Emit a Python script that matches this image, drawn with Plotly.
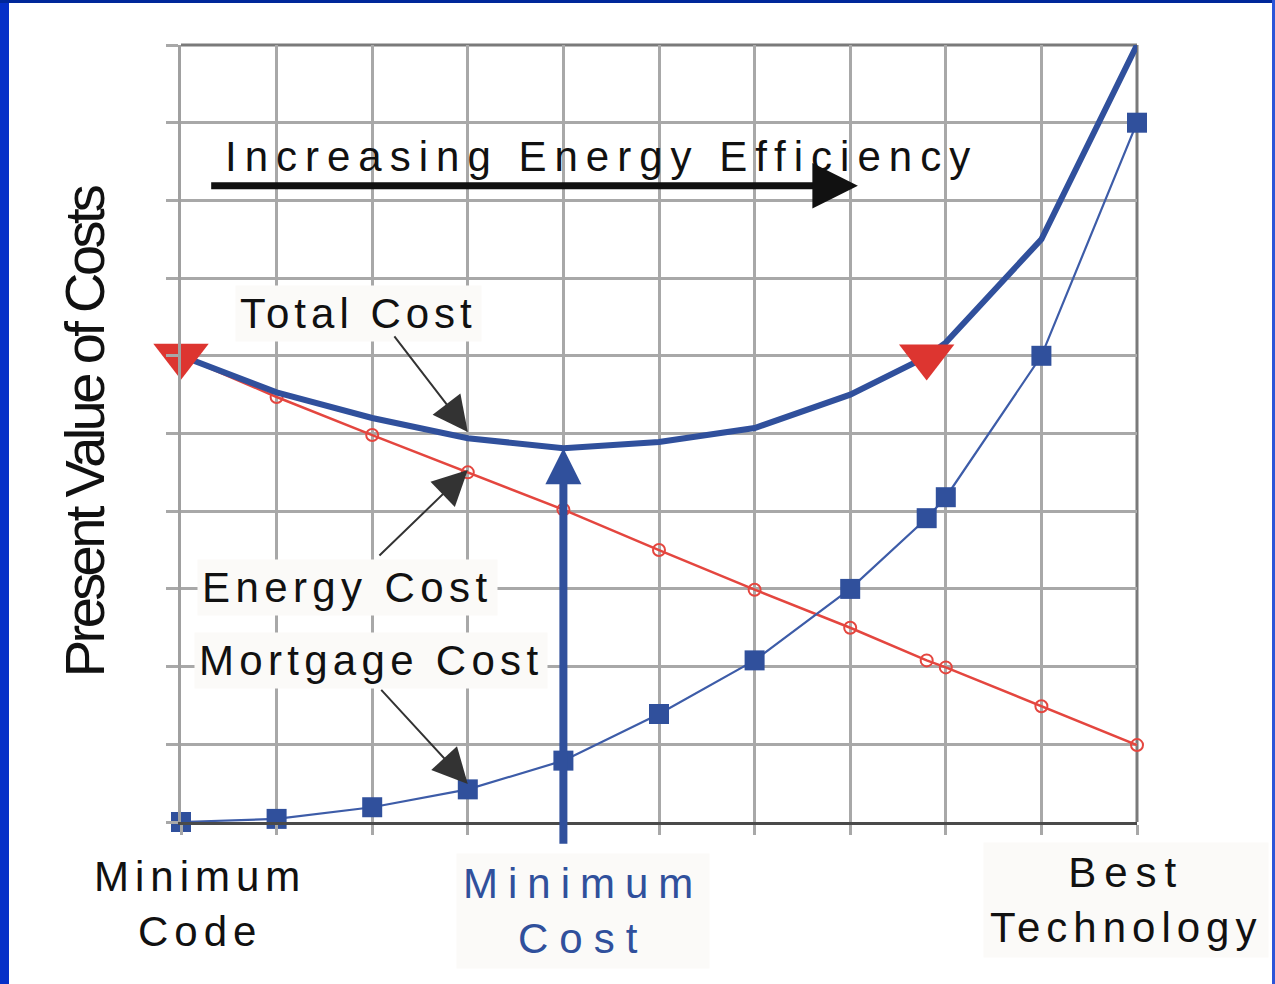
import plotly.graph_objects as go

# ---- data (grid units) ----
x_steps = [0, 1, 2, 3, 4, 5, 6, 7, 7.8, 8, 9, 10]
mortgage_cost = [0.0, 0.04, 0.19, 0.42, 0.79, 1.39, 2.08, 3.0, 3.91, 4.18, 6.0, 9.0]
energy_cost = [6.0, 5.47, 4.98, 4.5, 4.02, 3.5, 2.99, 2.5, 2.08, 1.99, 1.49, 0.99]
total_cost = [6.0, 5.53, 5.2, 4.94, 4.81, 4.89, 5.07, 5.5, 5.99, 6.17, 7.5, 10.0]
marker_idx = [0, 8]          # red triangles on the total curve
min_cost_idx = 4             # minimum of total cost

grid_ticks = list(range(0, 11))

BLUE = "#30509c"
RED = "#e4463f"
TXT = "#111111"
BOX = "#fbfaf8"
FONT = "Liberation Sans, Arial, sans-serif"


def sp(t, ls):
    return '<span style="letter-spacing:%spx">%s</span>' % (ls, t)


fig = go.Figure()

fig.add_trace(go.Scatter(
    x=x_steps, y=energy_cost, mode="lines+markers",
    line=dict(color=RED, width=2.5),
    marker=dict(symbol="circle-open", size=12, color=RED, line=dict(width=2, color=RED)),
    cliponaxis=False, showlegend=False, name="Energy Cost"))

fig.add_trace(go.Scatter(
    x=x_steps, y=mortgage_cost, mode="lines+markers",
    line=dict(color="#3d5ca8", width=2.2),
    marker=dict(symbol="square", size=20, color=BLUE),
    cliponaxis=False, showlegend=False, name="Mortgage Cost"))

fig.add_trace(go.Scatter(
    x=x_steps, y=total_cost, mode="lines",
    line=dict(color=BLUE, width=6),
    cliponaxis=False, showlegend=False, name="Total Cost"))

fig.add_trace(go.Scatter(
    x=[x_steps[i] for i in marker_idx], y=[total_cost[i] for i in marker_idx],
    mode="markers",
    marker=dict(symbol="triangle-down", size=48, color="#dd3530"),
    cliponaxis=False, showlegend=False))

annotations = []
# texts
annotations.append(dict(x=4.40, y=8.56, xref="x", yref="y", showarrow=False,
                        text=sp("Increasing Energy Efficiency", 8),
                        font=dict(family=FONT, size=42, color=TXT)))
annotations.append(dict(x=1.86, y=6.55, xref="x", yref="y", showarrow=False,
                        text=sp("Total Cost", 5), bgcolor=BOX, borderpad=4,
                        font=dict(family=FONT, size=42, color=TXT)))
annotations.append(dict(x=1.74, y=3.02, xref="x", yref="y", showarrow=False,
                        text=sp("Energy Cost", 5.4), bgcolor=BOX, borderpad=4,
                        font=dict(family=FONT, size=42, color=TXT)))
annotations.append(dict(x=1.99, y=2.08, xref="x", yref="y", showarrow=False,
                        text=sp("Mortgage Cost", 5.3), bgcolor=BOX, borderpad=4,
                        font=dict(family=FONT, size=42, color=TXT)))
annotations.append(dict(x=0.20, y=-0.105, xref="x", yref="paper", showarrow=False,
                        xanchor="center", yanchor="middle",
                        text=sp("Minimum", 6) + "<br>" + sp("Code", 6),
                        font=dict(family=FONT, size=42, color=TXT)))
annotations.append(dict(x=4.20, y=-0.114, xref="x", yref="paper", showarrow=False,
                        xanchor="center", yanchor="middle",
                        text=sp("Minimum", 10) + "<br>" + sp("Cost", 11),
                        bgcolor=BOX, borderpad=6,
                        font=dict(family=FONT, size=42, color=BLUE)))
annotations.append(dict(x=9.88, y=-0.100, xref="x", yref="paper", showarrow=False,
                        xanchor="center", yanchor="middle",
                        text=sp("Best", 8) + "<br>" + sp("Technology", 6),
                        bgcolor=BOX, borderpad=6,
                        font=dict(family=FONT, size=42, color=TXT)))
# y title
annotations.append(dict(x=-0.1015, y=0.503, xref="paper", yref="paper", showarrow=False,
                        xanchor="center", yanchor="middle",
                        textangle=-90, text=sp("Present Value of Costs", -3.6),
                        font=dict(family=FONT, size=56, color=TXT)))


# arrows
def arrow(x, y, ax, ay, color, width, size):
    return dict(x=x, y=y, ax=ax, ay=ay, xref="x", yref="y", axref="x", ayref="y",
                text="", showarrow=True, arrowhead=2, arrowsize=size,
                arrowwidth=width, arrowcolor=color, standoff=0, startstandoff=0)


annotations.append(arrow(7.08, 8.19, 0.30, 8.19, TXT, 7, 1.3))
annotations.append(arrow(3.0, 5.02, 2.22, 6.27, "#333333", 2, 3.5))
annotations.append(arrow(3.0, 4.53, 2.06, 3.41, "#333333", 2, 3.5))
annotations.append(arrow(3.0, 0.49, 2.08, 1.72, "#333333", 2, 3.5))
annotations.append(arrow(x_steps[min_cost_idx], total_cost[min_cost_idx],
                         x_steps[min_cost_idx], -0.3, BLUE, 8, 0.9))

W, H = 1275, 984
L, R, T, B = 181, 138, 45, 162
pw, ph = W - L - R, H - T - B


def px(xp):
    return (xp - L) / pw


def py(yp):
    return (H - B - yp) / ph


shapes = [
    # right and top plot borders
    dict(type="line", xref="paper", yref="paper", x0=1, x1=1, y0=0, y1=1,
         line=dict(color="#7a7a7a", width=3), layer="below"),
    dict(type="line", xref="paper", yref="paper", x0=0, x1=1, y0=1, y1=1,
         line=dict(color="#7a7a7a", width=3), layer="below"),
    # page frame
    dict(type="rect", xref="paper", yref="paper", x0=px(0), x1=px(9), y0=py(H), y1=py(0),
         fillcolor="#0530c8", line=dict(width=0)),
    dict(type="rect", xref="paper", yref="paper", x0=px(0), x1=px(W), y0=py(3), y1=py(0),
         fillcolor="#00279a", line=dict(width=0)),
    dict(type="rect", xref="paper", yref="paper", x0=px(1272), x1=px(W), y0=py(H), y1=py(0),
         fillcolor="#2d55d8", line=dict(width=0)),
]

fig.update_layout(
    width=W, height=H,
    margin=dict(l=L, r=R, t=T, b=B),
    paper_bgcolor="white", plot_bgcolor="white",
    annotations=annotations, shapes=shapes,
    xaxis=dict(range=[0, 10], tickvals=grid_ticks, showticklabels=False,
               showgrid=True, gridcolor="#a8a8a8", gridwidth=3,
               zeroline=False, showline=True, linecolor="#4a4a4a", linewidth=3,
               ticks="outside", ticklen=10, tickwidth=3, tickcolor="#a8a8a8",
               fixedrange=True),
    yaxis=dict(range=[0, 10], tickvals=grid_ticks, showticklabels=False,
               showgrid=True, gridcolor="#a8a8a8", gridwidth=3,
               zeroline=False, showline=True, linecolor="#a0a0a0", linewidth=3,
               ticks="outside", ticklen=12, tickwidth=3, tickcolor="#a8a8a8",
               fixedrange=True),
)

fig.write_html("out.html", config={"displayModeBar": False},
               post_script="document.body.style.margin='0';document.body.style.overflow='hidden';")
